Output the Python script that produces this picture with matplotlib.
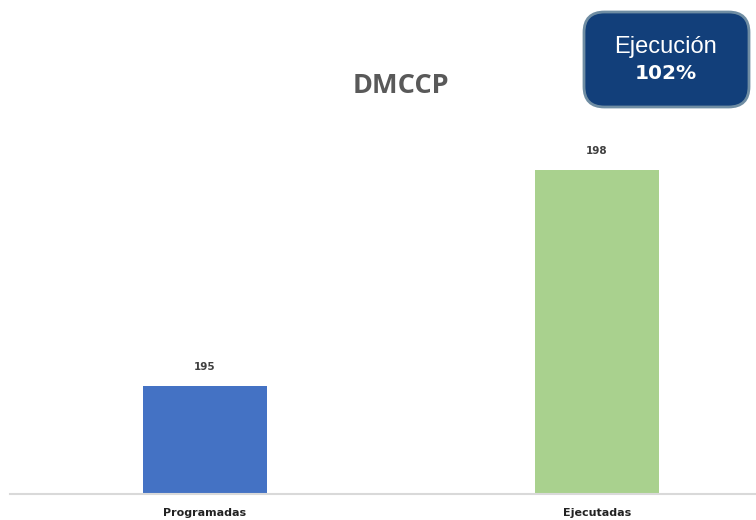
import matplotlib
matplotlib.use("Agg")
import matplotlib.pyplot as plt
from matplotlib.patches import FancyBboxPatch

categories = ["Programadas", "Ejecutadas"]
values = [195, 198]
colors = ["#4472C4", "#A9D18E"]
title = "DMCCP"
box_line1 = "Ejecución"
box_line2 = "102%"

fig = plt.figure(figsize=(7.56, 5.2), dpi=100)
ax = fig.add_axes([10/756, 1 - 494/520, 746/756, (494 - 130)/520])

x = list(range(len(categories)))
bars = ax.bar(x, values, width=0.316, color=colors, zorder=2)
ax.set_ylim(193.5, 193.5 + 364/72)
ax.set_xlim(-0.497, 1.406)

for xi, v in zip(x, values):
    ax.annotate(f"{v}", (xi, v), xytext=(0, 10), textcoords="offset points",
                ha="center", va="bottom", fontsize=7.5, color="#404040",
                fontweight="bold", family="Liberation Sans Narrow")

for s in ["top", "right", "left"]:
    ax.spines[s].set_visible(False)
ax.spines["bottom"].set_color("#D9D9D9")
ax.spines["bottom"].set_linewidth(1.5)
ax.set_yticks([])
ax.set_xticks(x)
ax.set_xticklabels(categories, fontsize=8, fontweight="bold", color="#222222",
                   family="Liberation Sans Narrow")
ax.tick_params(axis="x", length=0, pad=10)

fig.text(401/756, 1 - 86/520, title, ha="center", va="center", fontsize=19.5,
         fontweight="bold", color="#595959", family="Open Sans")

box = FancyBboxPatch((584/756, 1 - 107/520), (749 - 584)/756, (107 - 12)/520,
                     boxstyle="round,pad=0,rounding_size=0.027",
                     transform=fig.transFigure, facecolor="#123F7A",
                     edgecolor="#6F8DA3", linewidth=2.0, mutation_aspect=756/520)
fig.patches.append(box)
fig.text(666/756, 1 - 47/520, box_line1, ha="center", va="center", fontsize=17,
         color="white", family="Liberation Sans")
fig.text(666/756, 1 - 74/520, box_line2, ha="center", va="center", fontsize=14.5,
         color="white", fontweight="bold", family="DejaVu Sans")

fig.savefig("out.png", dpi=100)
